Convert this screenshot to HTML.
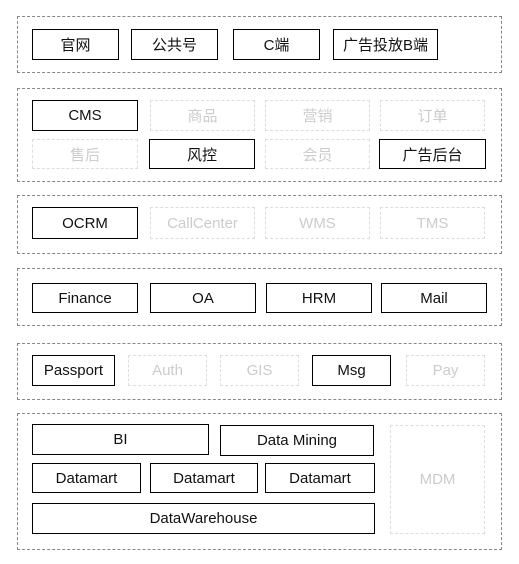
<!DOCTYPE html>
<html><head><meta charset="utf-8"><style>
body{margin:0;width:519px;height:564px;background:#fff;position:relative;overflow:hidden;font-family:"Liberation Sans","Noto Sans CJK SC",sans-serif;}
.c{position:absolute;border:1px dashed #888;box-sizing:border-box;}
.b{position:absolute;border:1px solid #000;box-sizing:border-box;display:flex;align-items:center;justify-content:center;font-size:15px;color:#111;}
.g{border:1px dashed #ddd;color:#ccc;}
</style></head><body>
<div class="c" style="left:17px;top:16px;width:485px;height:57px"></div>
<div class="b" style="left:32px;top:29px;width:87px;height:31px">官网</div>
<div class="b" style="left:131px;top:29px;width:87px;height:31px">公共号</div>
<div class="b" style="left:233px;top:29px;width:87px;height:31px">C端</div>
<div class="b" style="left:333px;top:29px;width:105px;height:31px">广告投放B端</div>

<div class="c" style="left:17px;top:88px;width:485px;height:94px"></div>
<div class="b" style="left:32px;top:100px;width:106px;height:31px">CMS</div>
<div class="b g" style="left:150px;top:100px;width:105px;height:31px">商品</div>
<div class="b g" style="left:265px;top:100px;width:105px;height:31px">营销</div>
<div class="b g" style="left:380px;top:100px;width:105px;height:31px">订单</div>
<div class="b g" style="left:32px;top:139px;width:106px;height:30px">售后</div>
<div class="b" style="left:149px;top:139px;width:106px;height:30px">风控</div>
<div class="b g" style="left:265px;top:139px;width:105px;height:30px">会员</div>
<div class="b" style="left:379px;top:139px;width:107px;height:30px">广告后台</div>

<div class="c" style="left:17px;top:195px;width:485px;height:59px"></div>
<div class="b" style="left:32px;top:207px;width:106px;height:32px">OCRM</div>
<div class="b g" style="left:150px;top:207px;width:105px;height:32px">CallCenter</div>
<div class="b g" style="left:265px;top:207px;width:105px;height:32px">WMS</div>
<div class="b g" style="left:380px;top:207px;width:105px;height:32px">TMS</div>

<div class="c" style="left:17px;top:268px;width:485px;height:58px"></div>
<div class="b" style="left:32px;top:283px;width:106px;height:30px">Finance</div>
<div class="b" style="left:150px;top:283px;width:106px;height:30px">OA</div>
<div class="b" style="left:266px;top:283px;width:106px;height:30px">HRM</div>
<div class="b" style="left:381px;top:283px;width:106px;height:30px">Mail</div>

<div class="c" style="left:17px;top:343px;width:485px;height:57px"></div>
<div class="b" style="left:32px;top:355px;width:83px;height:31px">Passport</div>
<div class="b g" style="left:128px;top:355px;width:79px;height:31px">Auth</div>
<div class="b g" style="left:220px;top:355px;width:79px;height:31px">GIS</div>
<div class="b" style="left:312px;top:355px;width:79px;height:31px">Msg</div>
<div class="b g" style="left:406px;top:355px;width:79px;height:31px">Pay</div>

<div class="c" style="left:17px;top:413px;width:485px;height:137px"></div>
<div class="b" style="left:32px;top:424px;width:177px;height:31px">BI</div>
<div class="b" style="left:220px;top:425px;width:154px;height:31px">Data Mining</div>
<div class="b" style="left:32px;top:463px;width:109px;height:30px">Datamart</div>
<div class="b" style="left:150px;top:463px;width:108px;height:30px">Datamart</div>
<div class="b" style="left:265px;top:463px;width:110px;height:30px">Datamart</div>
<div class="b" style="left:32px;top:503px;width:343px;height:31px">DataWarehouse</div>
<div class="b g" style="left:390px;top:425px;width:95px;height:109px">MDM</div>
</body></html>
